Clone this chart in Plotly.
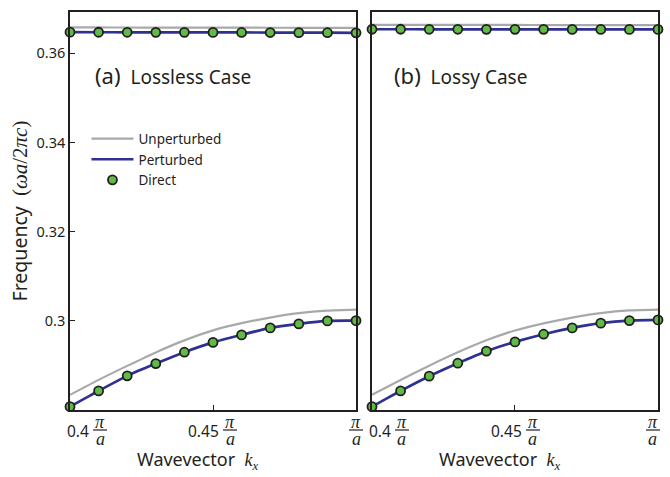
import plotly.graph_objects as go

# ---------------- data ----------------
kx = [0.40, 0.41, 0.42, 0.43, 0.44, 0.45, 0.46, 0.47, 0.48, 0.49, 0.50]

# (a) Lossless case
unpert_upper_a = [0.36580, 0.36580, 0.36579, 0.36578, 0.36577, 0.36576, 0.36575, 0.36574, 0.36573, 0.36572, 0.36572]
pert_upper_a = [0.36474, 0.36473, 0.36472, 0.36471, 0.36470, 0.36469, 0.36468, 0.36466, 0.36464, 0.36462, 0.36460]
direct_upper_a = [0.36474, 0.36473, 0.36472, 0.36471, 0.36470, 0.36469, 0.36468, 0.36466, 0.36464, 0.36462, 0.36460]
unpert_lower_a = [0.28335, 0.28672, 0.28986, 0.29289, 0.29558, 0.29782, 0.29944, 0.30070, 0.30168, 0.30227, 0.30249]
pert_lower_a = [0.28071, 0.28425, 0.28762, 0.29037, 0.29293, 0.29513, 0.29681, 0.29838, 0.29928, 0.29995, 0.30000]
direct_lower_a = [0.28071, 0.28425, 0.28762, 0.29037, 0.29293, 0.29513, 0.29681, 0.29838, 0.29928, 0.29995, 0.30000]

# (b) Lossy case
unpert_upper_b = [0.36640, 0.36640, 0.36639, 0.36638, 0.36637, 0.36636, 0.36635, 0.36634, 0.36633, 0.36632, 0.36632]
pert_upper_b = [0.36540, 0.36540, 0.36539, 0.36539, 0.36538, 0.36538, 0.36538, 0.36537, 0.36537, 0.36536, 0.36536]
direct_upper_b = [0.36540, 0.36540, 0.36539, 0.36539, 0.36538, 0.36538, 0.36538, 0.36537, 0.36537, 0.36536, 0.36536]
unpert_lower_b = [0.28340, 0.28670, 0.28990, 0.29290, 0.29560, 0.29780, 0.29940, 0.30070, 0.30170, 0.30230, 0.30250]
pert_lower_b = [0.28071, 0.28425, 0.28755, 0.29046, 0.29316, 0.29524, 0.29697, 0.29838, 0.29944, 0.30002, 0.30018]
direct_lower_b = [0.28071, 0.28425, 0.28755, 0.29046, 0.29316, 0.29524, 0.29697, 0.29838, 0.29944, 0.30002, 0.30018]

y_tick_vals = [0.30, 0.32, 0.34, 0.36]
y_tick_text = ["0.3", "0.32", "0.34", "0.36"]
x_tick_vals = [0.40, 0.45, 0.50]
x_tick_prefix = ["0.4", "0.45", ""]
panel_labels = [("(a)", "Lossless Case"), ("(b)", "Lossy Case")]
legend_names = ["Unperturbed", "Perturbed", "Direct"]

X_RANGE = [0.40, 0.50]
Y_RANGE = [0.27996, 0.36927]

# ---------------- style ----------------
GRAY = "#a7a9ac"
BLUE = "#2e3192"
GREEN = "#5fbb46"
DARK = "#231f20"
SANS = "Noto Sans"
SERIF = "Liberation Serif"

fig = go.Figure()

panels = [
    ("x", "y", unpert_upper_a, pert_upper_a, direct_upper_a, unpert_lower_a, pert_lower_a, direct_lower_a, True),
    ("x2", "y2", unpert_upper_b, pert_upper_b, direct_upper_b, unpert_lower_b, pert_lower_b, direct_lower_b, False),
]

for xa, ya, uu, pu, du, ul, pl, dl, show in panels:
    for i, (u, p) in enumerate([(uu, pu), (ul, pl)]):
        first = show and i == 0
        fig.add_trace(go.Scatter(
            x=kx, y=u, xaxis=xa, yaxis=ya, mode="lines",
            line=dict(color=GRAY, width=2.2, shape="spline", smoothing=0.6),
            name=legend_names[0], legendgroup="u", showlegend=first,
        ))
        fig.add_trace(go.Scatter(
            x=kx, y=p, xaxis=xa, yaxis=ya, mode="lines",
            line=dict(color=BLUE, width=2.7, shape="spline", smoothing=0.6),
            name=legend_names[1], legendgroup="p", showlegend=first,
        ))
    for i, d in enumerate([du, dl]):
        fig.add_trace(go.Scatter(
            x=kx, y=d, xaxis=xa, yaxis=ya, mode="markers", cliponaxis=False,
            marker=dict(color=GREEN, size=9, line=dict(color=DARK, width=1.8)),
            name=legend_names[2], legendgroup="d", showlegend=show and i == 0,
        ))

axis_common = dict(
    showline=True, mirror=True, linecolor=DARK, linewidth=1.6,
    showgrid=False, zeroline=False, ticklen=5,
    tickcolor=DARK, tickwidth=1.4,
)

fig.update_layout(
    width=670, height=477,
    margin=dict(l=70, r=10, t=12, b=67),
    paper_bgcolor="white", plot_bgcolor="white",
    font=dict(family=SANS, color=DARK),
    xaxis=dict(domain=[0, 0.4864], range=X_RANGE, tickvals=x_tick_vals, ticks="inside",
               showticklabels=False, **axis_common),
    xaxis2=dict(domain=[0.5136, 1], range=X_RANGE, tickvals=x_tick_vals, ticks="inside",
                showticklabels=False, anchor="y2", **axis_common),
    yaxis=dict(range=Y_RANGE, tickvals=y_tick_vals, ticktext=y_tick_text, ticks="inside",
               tickfont=dict(size=14.5, color=DARK),
               title=dict(text='Frequency\u00a0 <span style="font-family:Liberation Serif;font-size:21px">(<i>ωa</i>/2<i>πc</i>)</span>',
                          font=dict(size=19.5, color=DARK), standoff=4),
               **axis_common),
    yaxis2=dict(range=Y_RANGE, tickvals=y_tick_vals, showticklabels=False, ticks="",
                anchor="x2", matches="y", **axis_common),
    legend=dict(x=0.028, y=0.72, xanchor="left", yanchor="top",
                bgcolor="rgba(0,0,0,0)", font=dict(size=13.5, color=DARK),
                itemwidth=42, tracegroupgap=0, traceorder="normal"),
    showlegend=True,
)

annotations = []
shapes = []
tick_offsets = {"x": [30, 17, 0], "x2": [30, 18, -5]}
for xa in ["x", "x2"]:
    for v, pre, off in zip(x_tick_vals, x_tick_prefix, tick_offsets[xa]):
        annotations.append(dict(xref=xa, yref="paper", x=v, y=0, xshift=off, yshift=-12,
                                text="<i>π</i>", showarrow=False, xanchor="center", yanchor="middle",
                                font=dict(family=SERIF, size=18, color=DARK)))
        annotations.append(dict(xref=xa, yref="paper", x=v, y=0, xshift=off, yshift=-29,
                                text="<i>a</i>", showarrow=False, xanchor="center", yanchor="middle",
                                font=dict(family=SERIF, size=18, color=DARK)))
        if pre:
            annotations.append(dict(xref=xa, yref="paper", x=v, y=0, xshift=off - 9, yshift=-21,
                                    text=pre, showarrow=False, xanchor="right", yanchor="middle",
                                    font=dict(family=SANS, size=15.5, color=DARK)))
        frac = (v - X_RANGE[0]) / (X_RANGE[1] - X_RANGE[0])
        shapes.append(dict(type="line", xref=xa + " domain", yref="paper",
                           xsizemode="pixel", xanchor=frac, x0=off - 7, x1=off + 7,
                           ysizemode="pixel", yanchor=0, y0=-20, y1=-20,
                           line=dict(color=DARK, width=1.2)))
    annotations.append(dict(xref=xa + " domain", yref="paper", x=0.5, y=0, xshift=-15, yshift=-50,
                            text="Wavevector\u00a0 <span style=\"font-family:Liberation Serif\"><i>k<sub>x</sub></i></span>",
                            showarrow=False, xanchor="center", yanchor="middle",
                            font=dict(family=SANS, size=18, color=DARK)))

for xa, (tag, lbl), px in [("x", panel_labels[0], 0.08), ("x2", panel_labels[1], 0.07)]:
    annotations.append(dict(xref=xa + " domain", yref="paper", x=px, y=0.842,
                            text='<span style="font-size:22px">' + tag + '</span>\u00a0\u00a0' + lbl,
                            showarrow=False, xanchor="left", yanchor="middle",
                            font=dict(family=SANS, size=19, color=DARK)))

fig.update_layout(annotations=annotations, shapes=shapes)
fig.write_html("out.html", config={"displayModeBar": False},
               post_script="document.body.style.margin='0';document.body.style.padding='0';")
